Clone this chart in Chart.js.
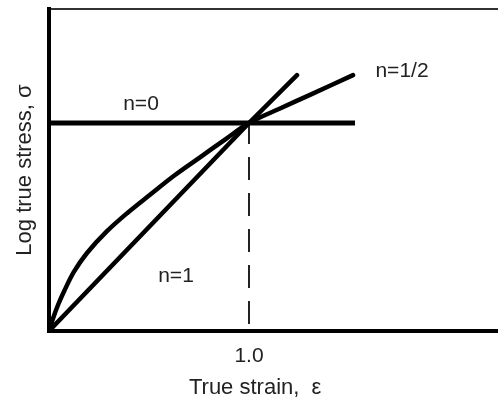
<!DOCTYPE html>
<html>
<head>
<meta charset="utf-8">
<script src="https://cdn.jsdelivr.net/npm/chart.js@4.4.1/dist/chart.umd.min.js"></script>
<style>
  body { margin: 0; background: #fff; }
  canvas { display: block; }
</style>
</head>
<body>
<canvas id="flow-curves" width="498" height="399"></canvas>
<script>
// Flow curves: log true stress vs true strain for different n
const strainN0 = [0, 1.53];
const stressN0 = [1, 1];

const strainN1 = [0, 1, 1.24];
const stressN1 = [0, 1, 1.23];

const strainHalf = [0, 0.02, 0.045, 0.075, 0.125, 0.19, 0.29, 0.395, 0.505, 0.63, 0.755, 0.88, 1.0, 1.155, 1.305, 1.52];
const stressHalf = [0, 0.06, 0.125, 0.19, 0.285, 0.375, 0.48, 0.57, 0.655, 0.75, 0.835, 0.92, 1.0, 1.07, 1.135, 1.23];

// dashed guide at strain = 1.0
const guideStrain = [1, 1];
const guideStress = [0, 1];

const xTicks = [1.0];

// curve labels (text, strain, stress)
const curveLabels = [
  { text: "n=0", x: 0.46, y: 1.09 },
  { text: "n=1", x: 0.635, y: 0.265 },
  { text: "n=1/2", x: 1.765, y: 1.25 }
];

const toPoints = (xs, ys) => xs.map((x, i) => ({ x: x, y: ys[i] }));

const FONT = "'Liberation Sans', Arial, sans-serif";

const labelPlugin = {
  id: 'curveLabels',
  afterDatasetsDraw(chart) {
    const ctx = chart.ctx;
    const xs = chart.scales.x, ys = chart.scales.y;
    ctx.save();
    ctx.fillStyle = '#222';
    ctx.font = "21px " + FONT;
    ctx.textAlign = 'center';
    ctx.textBaseline = 'middle';
    curveLabels.forEach(l => {
      ctx.fillText(l.text, xs.getPixelForValue(l.x), ys.getPixelForValue(l.y));
    });
    ctx.restore();
  }
};

const lineStyle = {
  showLine: true,
  pointRadius: 0,
  borderColor: '#000',
  borderWidth: 4.5,
  borderCapStyle: 'round',
  fill: false
};

new Chart(document.getElementById('flow-curves'), {
  type: 'scatter',
  data: {
    datasets: [
      { ...lineStyle, label: 'n=0', data: toPoints(strainN0, stressN0), borderWidth: 5, borderCapStyle: 'butt' },
      { ...lineStyle, label: 'n=1', data: toPoints(strainN1, stressN1) },
      { ...lineStyle, label: 'n=1/2', data: toPoints(strainHalf, stressHalf), tension: 0.35 },
      {
        ...lineStyle, label: 'guide', data: toPoints(guideStrain, guideStress),
        borderWidth: 2, borderColor: '#222', borderCapStyle: 'butt',
        borderDash: [23, 13], borderDashOffset: 29
      }
    ]
  },
  options: {
    responsive: false,
    animation: false,
    devicePixelRatio: 1,
    layout: { padding: 0 },
    plugins: { legend: { display: false }, tooltip: { enabled: false } },
    scales: {
      x: {
        type: 'linear',
        min: 0,
        max: 2.245,
        grid: { display: false, drawTicks: false },
        border: { display: true, color: '#000', width: 4 },
        afterBuildTicks: s => { s.ticks = xTicks.map(v => ({ value: v })); },
        ticks: {
          padding: 13,
          color: '#222',
          font: { family: FONT, size: 21 },
          callback: v => v.toFixed(1)
        },
        title: {
          display: true,
          // trailing spaces pull the centred title a little to the left
          text: 'True strain,  ε\u00a0\u00a0\u00a0\u00a0\u00a0\u00a0',
          color: '#222',
          font: { family: FONT, size: 22 },
          padding: { top: 0, bottom: -2 }
        },
        afterFit: s => { s.height = 68; }
      },
      xTop: {
        type: 'linear',
        position: 'top',
        min: 0,
        max: 1,
        grid: { display: false, drawTicks: false },
        ticks: { display: false },
        border: { display: true, color: '#333', width: 2 },
        afterFit: s => { s.height = 9; }
      },
      y: {
        type: 'linear',
        min: 0,
        max: 1.548,
        grid: { display: false, drawTicks: false },
        border: { display: true, color: '#000', width: 4 },
        ticks: { display: false },
        title: {
          display: true,
          text: 'Log true stress, σ',
          color: '#222',
          font: { family: FONT, size: 22 },
          padding: { top: 12, bottom: 0 }
        },
        afterFit: s => { s.width = 49; }
      }
    }
  },
  plugins: [labelPlugin]
});
</script>
</body>
</html>
